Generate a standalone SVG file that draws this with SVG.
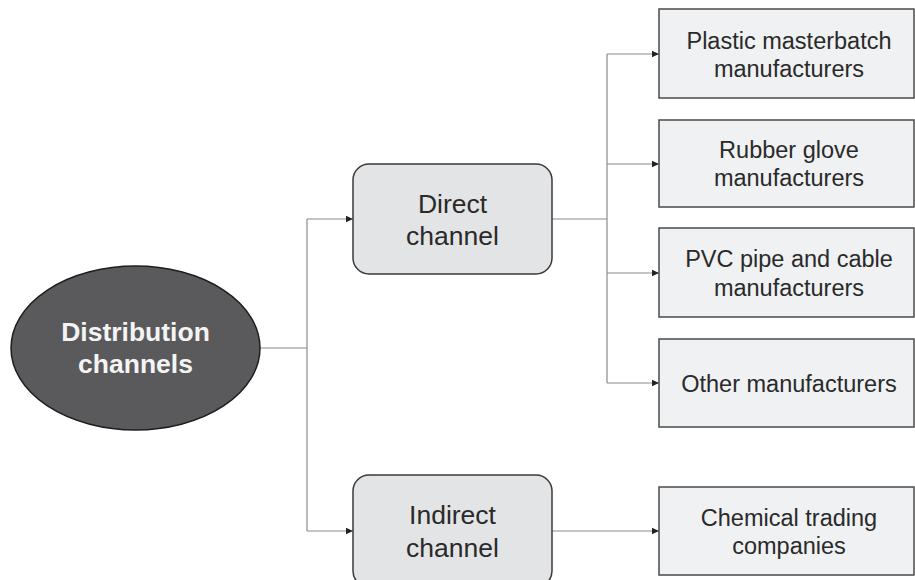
<svg xmlns="http://www.w3.org/2000/svg" width="915" height="580" viewBox="0 0 915 580">
<style>
.conn{fill:none;stroke:#8a8a8a;stroke-width:1.2}
.chan{fill:#e3e4e6;stroke:#3a3a3a;stroke-width:1.5}
.leaf{fill:#f0f1f3;stroke:#4a4a4a;stroke-width:1.5}
.t{font-family:"Liberation Sans",Arial,sans-serif;fill:#2a2a2a;text-anchor:middle}
.tc{font-size:26.5px}
.tl{font-size:23.5px}
.tr{font-family:"Liberation Sans",Arial,sans-serif;font-weight:bold;font-size:26.5px;fill:#f4f4f4;text-anchor:middle}
</style>
<defs>
<marker id="arr" markerWidth="8" markerHeight="8" refX="7" refY="4" orient="auto" markerUnits="userSpaceOnUse">
<path d="M0,0.8 L7,4 L0,7.2 Z" fill="#222"/>
</marker>
</defs>
<rect width="915" height="580" fill="#ffffff"/>
<g id="connectors">
<path class="conn" d="M260,348 H307"/>
<path class="conn" d="M307,219 V531"/>
<path class="conn" d="M307,219 H353" marker-end="url(#arr)"/>
<path class="conn" d="M307,531 H353" marker-end="url(#arr)"/>
<path class="conn" d="M552,219 H607"/>
<path class="conn" d="M607,54 V383"/>
<path class="conn" d="M607,54 H659" marker-end="url(#arr)"/>
<path class="conn" d="M607,164 H659" marker-end="url(#arr)"/>
<path class="conn" d="M607,273 H659" marker-end="url(#arr)"/>
<path class="conn" d="M607,383 H659" marker-end="url(#arr)"/>
<path class="conn" d="M552,531 H659" marker-end="url(#arr)"/>
</g>
<g id="root">
<ellipse cx="135.5" cy="348" rx="124.5" ry="82" fill="#5a5a5c" stroke="#1e1e1e" stroke-width="1.5"/>
<text class="tr" x="135.5" y="341">Distribution</text>
<text class="tr" x="135.5" y="373">channels</text>
</g>
<g id="direct">
<rect class="chan" x="353" y="164" width="199" height="110" rx="16"/>
<text class="t tc" x="452.5" y="213">Direct</text>
<text class="t tc" x="452.5" y="245">channel</text>
</g>
<g id="indirect">
<rect class="chan" x="353" y="475" width="199" height="112" rx="16"/>
<text class="t tc" x="452.5" y="524">Indirect</text>
<text class="t tc" x="452.5" y="557">channel</text>
</g>
<g id="plastic">
<rect class="leaf" x="659" y="9" width="255" height="89"/>
<text class="t tl" x="789" y="49">Plastic masterbatch</text>
<text class="t tl" x="789" y="77">manufacturers</text>
</g>
<g id="rubber">
<rect class="leaf" x="659" y="120" width="255" height="87"/>
<text class="t tl" x="789" y="158">Rubber glove</text>
<text class="t tl" x="789" y="186">manufacturers</text>
</g>
<g id="pvc">
<rect class="leaf" x="659" y="228" width="255" height="89"/>
<text class="t tl" x="789" y="267">PVC pipe and cable</text>
<text class="t tl" x="789" y="296">manufacturers</text>
</g>
<g id="other">
<rect class="leaf" x="659" y="339" width="255" height="88"/>
<text class="t tl" x="789" y="392">Other manufacturers</text>
</g>
<g id="chemical">
<rect class="leaf" x="659" y="487" width="255" height="88"/>
<text class="t tl" x="789" y="526">Chemical trading</text>
<text class="t tl" x="789" y="554">companies</text>
</g>
</svg>
